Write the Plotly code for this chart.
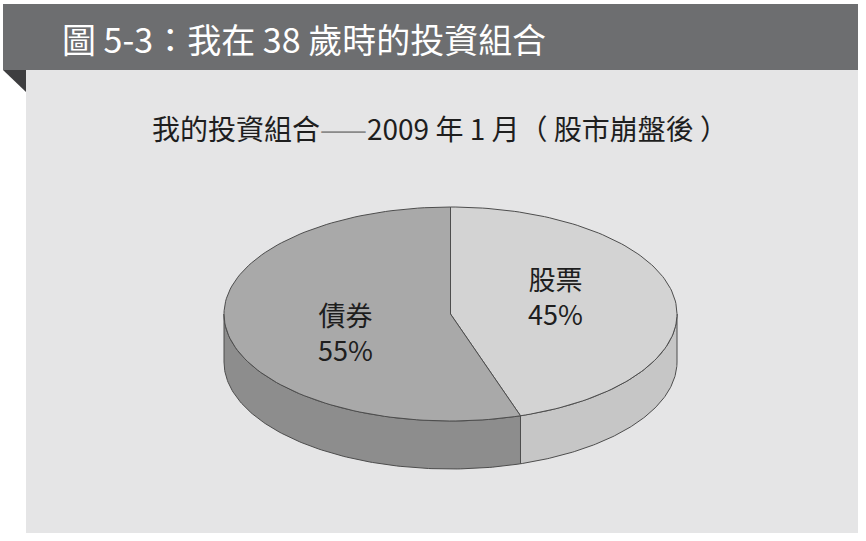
#!/usr/bin/env python3
"""
Figure 5-3: portfolio at age 38, drawn as a tilted (3D-look) pie.

Run: python plot.py
"""
import numpy as np
import plotly.graph_objects as go

# Data
labels = ["股票", "債券"]
shares = [45, 55]
header_text = "圖 5-3：我在 38 歲時的投資組合"
subtitle_parts = ["我的投資組合", "——", "2009 年 1 月（ 股市崩盤後 ）"]

# Palette
WHITE     = "#ffffff"
HEADER    = "#6d6e70"
NOTCH     = "#3e3e40"
PANEL     = "#e5e5e6"
OUTLINE   = "#4d4d4d"
TEXT      = "#1e1e1e"
DASH      = "#8a8a8a"
TOP_COLORS  = ["#d3d3d3", "#a9a9a9"]
SIDE_COLORS = ["#c6c6c6", "#8d8d8d"]
FONT = "Noto Sans CJK TC"

# Pie geometry (pixel space, y grows downward)
W, H = 866, 541
CX, CY = 450.5, 314
RX, RY = 226.5, 107
DEPTH = 48
LABEL_KX, LABEL_KY = 0.47, 1.09


def ellipse_pts(a0, a1, dy=0.0, n=120):
    # angle in degrees, 0 = 12 o'clock, clockwise
    t = np.radians(np.linspace(a0, a1, n))
    return CX + RX * np.sin(t), CY - RY * np.cos(t) + dy


fig = go.Figure()

total = sum(shares)
bounds = []
start = 0.0
for s in shares:
    end = start + 360.0 * s / total
    bounds.append((start, end))
    start = end

# side walls (only the front half, 90..270 deg, is visible)
for (a0, a1), col in zip(bounds, SIDE_COLORS):
    lo, hi = max(a0, 90), min(a1, 270)
    if lo >= hi:
        continue
    tx, ty = ellipse_pts(lo, hi)
    bx, by = ellipse_pts(hi, lo, dy=DEPTH)
    fig.add_trace(go.Scatter(
        x=np.r_[tx, bx, tx[:1]], y=np.r_[ty, by, ty[:1]],
        mode="lines", fill="toself", fillcolor=col,
        line=dict(color=OUTLINE, width=1), hoverinfo="skip", showlegend=False,
    ))

# top faces
for (a0, a1), col, lab, s in zip(bounds, TOP_COLORS, labels, shares):
    ex, ey = ellipse_pts(a0, a1)
    fig.add_trace(go.Scatter(
        x=np.r_[CX, ex, CX], y=np.r_[CY, ey, CY],
        mode="lines", fill="toself", fillcolor=col,
        line=dict(color=OUTLINE, width=1), hoverinfo="skip", showlegend=False,
    ))
    mid = np.radians((a0 + a1) / 2)
    fig.add_annotation(
        x=CX + LABEL_KX * RX * np.sin(mid), y=CY - LABEL_KY * RY * np.cos(mid),
        text=f"{lab}<br>{s}%", showarrow=False,
        font=dict(family=FONT, size=27, color=TEXT), align="center",
    )

# header bar, notch and panel
fig.add_shape(type="rect", x0=26, x1=858, y0=70, y1=533,
              fillcolor=PANEL, line_width=0, layer="below")
fig.add_shape(type="rect", x0=3, x1=858, y0=4, y1=70,
              fillcolor=HEADER, line_width=0, layer="below")
fig.add_shape(type="path", path="M 3 70 L 26 70 L 26 92 Z",
              fillcolor=NOTCH, line_width=0, layer="below")

fig.add_annotation(x=60, y=38, text=header_text, showarrow=False,
                   xanchor="left", yanchor="middle",
                   font=dict(family=FONT, size=34, color=WHITE))
subtitle = (f"{subtitle_parts[0]}<span style='color:{DASH}'>{subtitle_parts[1]}</span>"
            f"{subtitle_parts[2]}")
fig.add_annotation(x=150, y=128, text=subtitle, showarrow=False,
                   xanchor="left", yanchor="middle",
                   font=dict(family=FONT, size=28, color=TEXT))

fig.update_layout(
    width=W, height=H,
    paper_bgcolor=WHITE, plot_bgcolor=WHITE,
    margin=dict(l=0, r=0, t=0, b=0),
    xaxis=dict(range=[0, W], visible=False, fixedrange=True),
    yaxis=dict(range=[H, 0], visible=False, fixedrange=True),
    showlegend=False,
)

# drop the default page margin so the figure sits at the window origin
fig.write_html("out.html", config={"displayModeBar": False},
               post_script="document.body.style.margin='0';")
